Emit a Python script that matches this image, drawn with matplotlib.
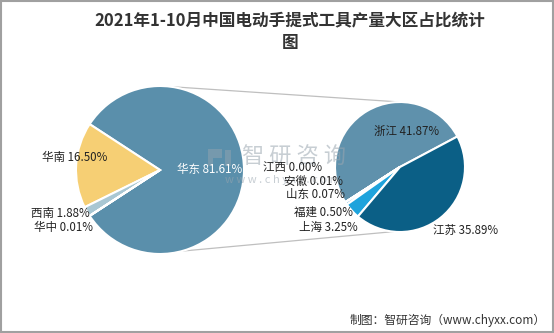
import numpy as np
import matplotlib
matplotlib.use("Agg")
import matplotlib.pyplot as plt
from matplotlib.patches import Rectangle

plt.rcParams['font.family'] = ['Noto Sans CJK SC', 'DejaVu Sans']

# Left pie: regions
regions = ['华东', '华南', '西南', '华中']
region_vals = [81.61, 16.50, 1.88, 0.01]
region_colors = ['#5a8fab', '#f6cf74', '#a9c7d3', '#7f7f7f']

# Right pie: provinces of 华东
provinces = ['浙江', '江西', '安徽', '山东', '福建', '上海', '江苏']
province_vals = [41.87, 0.00, 0.01, 0.07, 0.50, 3.25, 35.89]
province_colors = ['#5f91ac', '#9bbccc', '#7fb0c8', '#4a86a8', '#2c8fc4', '#1ea3dc', '#0b5f86']

W, H = 554, 333
fig = plt.figure(figsize=(W / 100, H / 100), dpi=100)
ax = fig.add_axes([0, 0, 1, 1])
ax.set_xlim(0, W)
ax.set_ylim(0, H)
ax.set_aspect('equal')
ax.axis('off')

# frame
ax.add_patch(Rectangle((1, 1), W - 2, H - 2, fill=False, ec='#a0a0a0', lw=1.5))

lc, lr = (160, H - 170), 84
rc, rr = (400, H - 167), 65

start_left = -region_vals[0] / sum(region_vals) * 360 / 2
ax.pie(region_vals, colors=region_colors, center=lc, radius=lr, startangle=start_left,
       counterclock=True, wedgeprops=dict(edgecolor='white', linewidth=1.5),
       frame=True)
ax.pie(province_vals, colors=province_colors, center=rc, radius=rr, startangle=28,
       counterclock=True, wedgeprops=dict(edgecolor='white', linewidth=1.5),
       frame=True)
ax.set_xlim(0, W)
ax.set_ylim(0, H)
ax.axis('off')

# connector lines
def pt(c, r, ang):
    a = np.deg2rad(ang)
    return c[0] + r * np.cos(a), c[1] + r * np.sin(a)

p1 = pt(lc, lr, 83); p2 = pt(rc, rr, 90)
p3 = pt(lc, lr, -75); p4 = pt(rc, rr, -96)
ax.plot([p1[0], p2[0]], [p1[1], p2[1]], color='#bfbfbf', lw=0.9, zorder=0)
ax.plot([p3[0], p4[0]], [p3[1], p4[1]], color='#bfbfbf', lw=0.9, zorder=0)

# watermark (behind labels)
wm = '#9aa6b0'
ax.add_patch(Rectangle((208, H - 158), 14, 9, fc=wm, ec='none', alpha=0.45, zorder=3))
ax.add_patch(Rectangle((208, H - 166), 5, 8, fc=wm, ec='none', alpha=0.45, zorder=3))
ax.add_patch(Rectangle((225, H - 166), 6, 16, fc=wm, ec='none', alpha=0.45, zorder=3))
ax.text(294, H - 157, '智 研 咨 询', fontsize=16, color=wm, alpha=0.55,
        ha='center', va='center', zorder=3)
ax.text(282, H - 180, 'w w w . c h y x x . c o m', fontsize=8, color=wm, alpha=0.55,
        ha='center', va='center', zorder=3)

fs = 8.3
def lab(x, y, name, v, color='#222222', ha='center'):
    ax.text(x, H - y, f'{name} {v:.2f}%', fontsize=fs, color=color, ha=ha, va='center', zorder=5)

lab(210, 169, regions[0], region_vals[0], color='white')
lab(75, 157, regions[1], region_vals[1])
lab(60, 213, regions[2], region_vals[2])
lab(64, 228, regions[3], region_vals[3])

lab(407, 131, provinces[0], province_vals[0])
lab(293, 168, provinces[1], province_vals[1])
lab(313, 181, provinces[2], province_vals[2])
lab(316, 194, provinces[3], province_vals[3])
lab(323, 212, provinces[4], province_vals[4])
lab(328, 227, provinces[5], province_vals[5])
lab(466, 230, provinces[6], province_vals[6])

# title
ax.text(290, H - 20, '2021年1-10月中国电动手提式工具产量大区占比统计', fontsize=12, fontweight='bold',
        color='#333333', ha='center', va='center')
ax.text(290, H - 43, '图', fontsize=12, fontweight='bold', color='#333333', ha='center', va='center')

# footer
ax.text(546, H - 320, '制图：智研咨询（www.chyxx.com）', fontsize=8.5, color='#333333', ha='right', va='center')

fig.savefig('out.png', dpi=100)
